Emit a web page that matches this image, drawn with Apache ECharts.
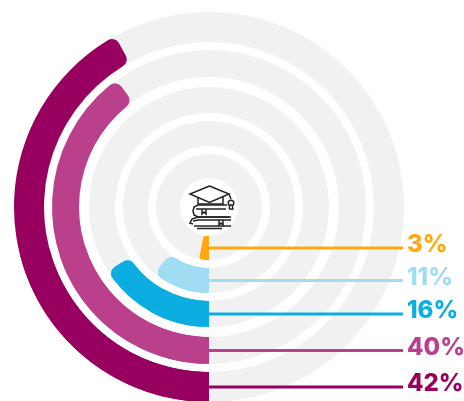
<!DOCTYPE html>
<html>
<head>
<meta charset="utf-8">
<style>
  html, body { margin: 0; padding: 0; background: #fff; }
  #MyChart { width: 464px; height: 401px; }
</style>
<script src="https://cdn.jsdelivr.net/npm/echarts@6/dist/echarts.min.js"></script>
</head>
<body>
<div id="MyChart"></div>
<script>
// share per ring, innermost first
let labels = ['3%', '11%', '16%', '40%', '42%']
let values = [3, 11, 16, 40, 42]
let colors = ['#ffa90f', '#a0dcf3', '#0caee1', '#bb408c', '#980060']
let inner = [29, 61, 94, 130, 165]
let outer = [53, 86, 120, 157, 195]

let cx = 209
let cy = 207

let series = []
let graphics = []

function ring(i, value, color, corner, z) {
  return {
    type: 'pie',
    silent: true,
    center: [cx, cy],
    radius: [inner[i], outer[i]],
    startAngle: 270,
    clockwise: true,
    z: z,
    label: { show: false },
    labelLine: { show: false },
    animation: false,
    data: [
      { value: value, itemStyle: { color: color, borderRadius: corner } },
      { value: 100 - value, itemStyle: { color: 'rgba(0,0,0,0)' } }
    ]
  }
}

for (let i = 0; i < values.length; i++) {
  // grey track
  series.push(ring(i, 100, '#f1f1f1', 0, 1))
  // rounded end
  series.push(ring(i, values[i], colors[i], i == 0 ? 3 : 8, 2))
  // flat start at 6 o'clock
  series.push(ring(i, values[i] / 2, colors[i], 0, 2))

  let y = cy + (inner[i] + outer[i]) / 2
  graphics.push({
    type: 'line',
    z: 10,
    shape: { x1: cx, y1: y, x2: 403, y2: y },
    style: { stroke: colors[i], lineWidth: 3 }
  })
  graphics.push({
    type: 'text',
    z: 10,
    x: 407,
    y: y - 3,
    style: {
      text: labels[i],
      fill: colors[i],
      font: '800 24px Inter',
      textVerticalAlign: 'middle'
    }
  })
}

// books and cap icon
let iconLines = [
  [[209.5, 186], [190, 194], [209.5, 202.5], [229, 194], [209.5, 186]],
  [[198, 197], [198, 204], [223, 204], [223, 197]],
  [[229, 194], [231, 199]],
  [[227, 205], [198, 205], [194, 207], [193, 211], [194, 215], [198, 217], [229, 217]],
  [[196, 209], [226, 209]],
  [[202, 209], [202, 214], [204, 212], [206, 214], [206, 209]],
  [[231, 217], [198, 217], [192, 219], [190, 223], [193, 224]],
  [[193, 221], [198, 220], [231, 220]],
  [[194, 226], [231, 226]],
  [[219, 220], [219, 225], [221, 223], [223, 225], [223, 220]],
  [[197, 228.5], [222, 228.5]]
]
for (let i = 0; i < iconLines.length; i++) {
  graphics.push({
    type: 'polyline',
    z: 11,
    shape: { points: iconLines[i] },
    style: { stroke: '#222', fill: null, lineWidth: 1.5 }
  })
}
graphics.push({
  type: 'circle',
  z: 11,
  shape: { cx: 231, cy: 203, r: 2.8 },
  style: { fill: '#fff', stroke: '#222', lineWidth: 1.5 }
})
graphics.push({
  type: 'polyline',
  z: 11,
  shape: { points: [[229, 209], [233, 209], [232, 205], [230, 205], [229, 209]] },
  style: { fill: '#fff', stroke: '#222', lineWidth: 1.3 }
})

let myChart = echarts.init(document.getElementById('MyChart'), null, { renderer: 'canvas' })
myChart.setOption({
  backgroundColor: '#fff',
  animation: false,
  series: series,
  graphic: graphics
})
</script>
</body>
</html>
